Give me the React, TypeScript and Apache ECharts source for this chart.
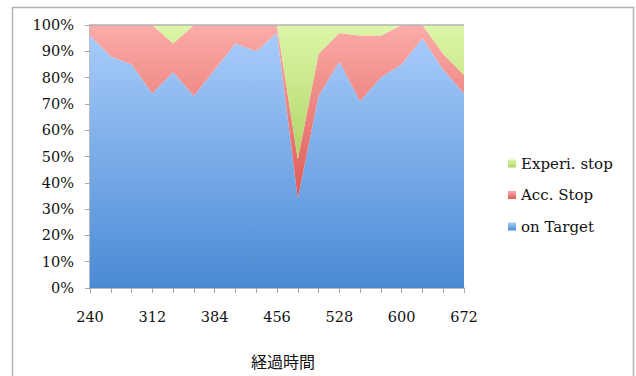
import React, { useEffect, useRef } from "react";
import * as echarts from "echarts";

const categories = ["240", "264", "288", "312", "336", "360", "384", "408", "432", "456", "480", "504", "528", "552", "576", "600", "624", "648", "672"];
const onTarget = [96, 88, 85, 74, 82, 73, 83, 93, 90, 97, 34, 73, 86, 71, 80, 85, 95, 83, 74];
const accStop = [4, 12, 15, 26, 11, 27, 17, 7, 10, 3, 15, 16, 11, 25, 16, 15, 5, 6, 7];
const experiStop = [0, 0, 0, 0, 7, 0, 0, 0, 0, 0, 51, 11, 3, 4, 4, 0, 0, 11, 19];
const seriesNames = ["on Target", "Acc. Stop", "Experi. stop"];
const xTitle = "経過時間";

const SERIF = "DejaVu Serif";

function grad(top: string, bottom: string) {
  return new echarts.graphic.LinearGradient(0, 0, 0, 1, [
    { offset: 0, color: top },
    { offset: 1, color: bottom },
  ]);
}

export default function App() {
  const ref = useRef<HTMLDivElement>(null);
  useEffect(() => {
    if (!ref.current) return;
    const chart = echarts.init(ref.current, null, { renderer: "svg" });
    const palette = [
      { top: "#a8ccfa", bottom: "#4a8ad5" },
      { top: "#fbaca9", bottom: "#de5a55" },
      { top: "#dcf7a7", bottom: "#b2d468" },
    ];
    const datas = [onTarget, accStop, experiStop];
    const series: any[] = seriesNames.map((name, i) => ({
      name,
      type: "line",
      stack: "total",
      data: datas[i],
      symbol: "none",
      showSymbol: false,
      lineStyle: { width: 0, opacity: 0 },
      itemStyle: { color: grad(palette[i].top, palette[i].bottom) },
      areaStyle: { color: grad(palette[i].top, palette[i].bottom), opacity: 1 },
      z: 2,
    }));
    series[2].markLine = {
      silent: true,
      symbol: "none",
      label: { show: false },
      emphasis: { disabled: true },
      lineStyle: { color: "#b2b2b2", width: 1.5, type: "solid", opacity: 1 },
      data: [{ yAxis: 100 }],
    };
    chart.setOption({
      animation: false,
      backgroundColor: "#ffffff",
      grid: { left: 90, right: 172, top: 25, bottom: 88 },
      legend: {
        orient: "vertical",
        left: 503,
        top: 151,
        icon: "rect",
        itemWidth: 8,
        itemHeight: 8,
        itemGap: 16.5,
        data: ["Experi. stop", "Acc. Stop", "on Target"],
        textStyle: { fontFamily: SERIF, fontSize: 15, color: "#111" },
      },
      xAxis: {
        type: "category",
        data: categories,
        boundaryGap: false,
        name: xTitle,
        nameLocation: "middle",
        nameGap: 65,
        nameTextStyle: { fontFamily: "Noto Sans CJK JP", fontSize: 16, color: "#111", padding: [0, 0, 0, 12] },
        axisLine: { show: true, lineStyle: { color: "#a6a6a6", width: 1.5 } },
        axisTick: { show: true, interval: 0, length: 5, inside: false, lineStyle: { color: "#a6a6a6" } },
        axisLabel: { interval: 2, margin: 21, fontFamily: SERIF, fontSize: 14.5, color: "#111" },
        splitLine: { show: false },
      },
      yAxis: {
        type: "value",
        min: 0,
        max: 100,
        interval: 10,
        axisLine: { show: true, lineStyle: { color: "#a6a6a6", width: 1.5 } },
        axisTick: { show: true, length: 5, lineStyle: { color: "#a6a6a6" } },
        axisLabel: { formatter: "{value}%", margin: 16, fontFamily: SERIF, fontSize: 14.5, color: "#111" },
        splitLine: { show: false },
      },
      graphic: [
        {
          type: "polyline",
          shape: { points: [[12.5, 376], [12.5, 7.5], [633.5, 7.5], [633.5, 376]] },
          style: { stroke: "#b4b4b4", lineWidth: 1.5, fill: "none" },
          silent: true,
        },
      ],
      series,
    });
    return () => chart.dispose();
  }, []);
  return (
    <div
      ref={ref}
      style={{ position: "fixed", left: 0, top: 0, width: 636, height: 376, background: "#fff" }}
    />
  );
}
